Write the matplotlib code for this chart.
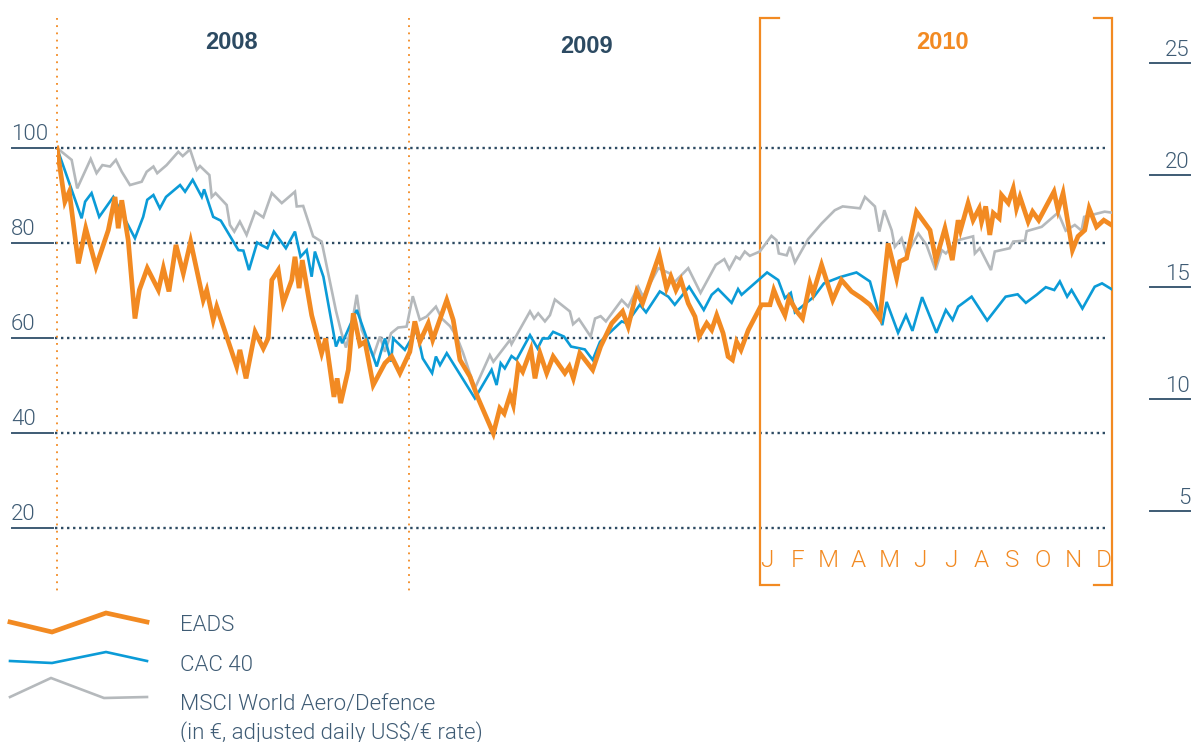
import numpy as np
import matplotlib
matplotlib.use("Agg")
import matplotlib.pyplot as plt
from matplotlib import font_manager
from matplotlib.transforms import blended_transform_factory

# --- data (x in months since Jan 2008) -------------------------------------
eads_x = [0.00, 0.27, 0.42, 0.73, 0.98, 1.33, 1.75, 1.98, 2.09, 2.21, 2.43, 2.66,
          2.81, 3.08, 3.46, 3.63, 3.82, 4.06, 4.31, 4.56, 4.99, 5.11, 5.33, 5.45,
          6.13, 6.24, 6.45, 6.76, 7.04, 7.21, 7.33, 7.55, 7.72, 8.01, 8.12, 8.26,
          8.37, 8.69, 9.03, 9.17, 9.45, 9.56, 9.68, 9.94, 10.11, 10.34, 10.51,
          10.79, 11.19, 11.42, 11.70, 12.04, 12.21, 12.38, 12.67, 12.82, 13.30,
          13.52, 13.75, 14.09, 14.37, 14.89, 15.11, 15.26, 15.46, 15.57, 15.74,
          15.89, 16.17, 16.31, 16.48, 16.71, 16.93, 17.33, 17.48, 17.62, 17.84,
          18.28, 18.55, 18.93, 19.30, 19.49, 19.78, 19.98, 20.55, 20.80, 20.95,
          21.12, 21.29, 21.54, 21.77, 21.91, 22.17, 22.34, 22.51, 22.73, 22.90,
          23.05, 23.19, 23.34, 23.59, 24.04, 24.33, 24.46, 24.64, 24.84, 24.98,
          25.24, 25.44, 25.69, 25.80, 26.09, 26.47, 26.77, 27.11, 27.45, 27.74,
          28.08, 28.36, 28.65, 28.76, 28.99, 29.33, 29.79, 29.99, 30.30, 30.55,
          30.75, 30.83, 31.09, 31.26, 31.47, 31.55, 31.69, 31.83, 31.95, 32.15,
          32.23, 32.46, 32.63, 32.74, 32.86, 33.14, 33.29, 33.50, 34.02, 34.16,
          34.33, 34.65, 34.84, 35.07, 35.22, 35.47, 35.72, 35.98]
eads_y = [100, 88.7, 90.8, 75.7, 83.1, 75.0, 82.7, 89.7, 83.1, 89.0, 80.6, 64.1,
          70.1, 74.7, 70.1, 74.7, 69.8, 79.6, 73.6, 80.3, 68.0, 70.1, 63.8, 66.6,
          54.0, 57.5, 51.5, 61.3, 57.8, 60.0, 72.2, 74.3, 67.3, 72.2, 77.1, 70.5,
          76.4, 64.8, 56.8, 59.9, 47.6, 51.5, 46.3, 53.3, 65.2, 58.5, 59.2,
          50.1, 54.7, 56.1, 52.6, 57.1, 63.5, 59.2, 63.1, 59.6, 68.0,
          63.8, 55.4, 51.9, 47.3, 39.9, 45.2, 44.1, 48.0, 45.9, 54.3,
          52.9, 57.5, 51.5, 56.8, 52.6, 56.1, 52.6, 54.0, 51.5, 56.8,
          53.3, 58.2, 63.1, 65.6, 62.4, 69.8, 67.3, 77.5, 70.5, 72.9,
          70.1, 72.2, 67.3, 64.5, 60.3, 63.1, 61.7, 64.8, 61.0, 56.1,
          55.4, 59.2, 57.5, 61.7, 67.0, 67.0, 70.1, 67.3, 64.8, 68.4,
          65.6, 64.1, 71.5, 69.4, 75.4, 68.0, 72.2, 69.8, 68.4, 67.0,
          64.1, 79.9, 72.6, 76.1, 76.8, 86.6, 82.7, 76.4, 83.1, 76.4,
          84.8, 82.7, 88.4, 84.8, 87.3, 84.5, 87.7, 81.7, 86.3, 85.2,
          90.1, 88.4, 91.5, 87.3, 89.7, 84.5, 86.6, 84.8, 90.8, 86.9,
          90.5, 78.5, 81.4, 82.7, 87.3, 83.4, 84.8, 83.8]

cac_x = [0.00, 0.84, 0.96, 1.18, 1.44, 1.92, 2.66, 2.94, 3.08, 3.29, 3.51, 3.72,
         4.20, 4.37, 4.63, 4.94, 5.02, 5.33, 5.59, 6.19, 6.36, 6.55, 6.83, 6.99,
         7.18, 7.40, 7.81, 8.12, 8.31, 8.52, 8.69, 8.80, 9.09, 9.52, 9.66, 9.73,
         10.23, 10.91, 11.19, 11.40, 11.47, 11.87, 12.27, 12.48, 12.80, 12.93,
         13.07, 13.30, 14.26, 14.83, 15.00, 15.14, 15.28, 15.51, 15.68, 16.14,
         16.40, 16.57, 16.76, 16.93, 17.30, 17.54, 18.01, 18.28, 18.53, 19.27,
         19.44, 19.89, 20.10, 20.57, 20.86, 21.08, 21.57, 22.07, 22.34, 22.56,
         23.02, 23.24, 23.36, 24.23, 24.61, 24.84, 25.04, 25.18, 25.83, 26.17,
         26.71, 27.28, 27.74, 28.16, 28.31, 28.70, 28.97, 29.19, 29.52, 30.01,
         30.33, 30.56, 30.75, 31.21, 31.74, 32.37, 32.78, 33.06, 33.43, 33.74,
         34.03, 34.22, 34.47, 34.62, 34.99, 35.41, 35.66, 35.98]
cac_y = [100, 85.2, 88.7, 90.5, 85.5, 89.7, 81.0, 85.5, 89.1, 90.1, 87.3, 89.7,
         92.2, 90.8, 93.3, 89.7, 91.3, 85.5, 84.7, 78.5, 78.4, 74.3, 80.1, 79.5,
         78.9, 82.4, 78.9, 82.4, 77.1, 78.5, 72.9, 78.2, 72.9, 58.2, 60.3, 58.9,
         65.9, 54.0, 59.9, 55.0, 59.9, 57.5, 61.7, 55.7, 52.6, 56.1,
         54.3, 56.8, 47.3, 53.3, 50.1, 54.7, 53.6, 56.2, 55.4, 60.6,
         57.8, 59.9, 59.9, 61.3, 60.3, 58.2, 57.6, 55.4, 59.2, 63.5,
         63.1, 67.0, 65.4, 69.8, 68.7, 67.0, 70.8, 65.9, 69.1, 70.3,
         67.4, 70.3, 69.1, 73.8, 72.2, 68.4, 69.5, 65.4, 68.7, 71.5,
         72.8, 73.8, 71.9, 62.7, 67.6, 61.1, 64.8, 61.5, 68.6, 61.1,
         65.9, 63.8, 66.6, 68.7, 63.7, 68.7, 69.2, 67.4, 69.1, 70.7,
         70.1, 71.9, 68.7, 70.1, 66.2, 70.8, 71.5, 70.3]

msci_x = [0.00, 0.50, 0.69, 1.15, 1.35, 1.55, 1.81, 2.01, 2.21, 2.49, 2.89, 3.06,
          3.29, 3.42, 3.74, 4.14, 4.29, 4.54, 4.77, 4.88, 5.20, 5.28, 5.41, 5.79,
          5.90, 6.05, 6.24, 6.47, 6.76, 7.04, 7.33, 7.67, 8.12, 8.18, 8.40, 8.74,
          9.03, 9.52, 9.71, 9.86, 10.05, 10.23, 10.40, 10.79, 11.02, 11.19, 11.40,
          11.64, 11.93, 12.14, 12.38, 12.61, 12.93, 13.13, 13.41, 13.64, 13.86,
          14.26, 14.77, 14.89, 15.46, 15.51, 16.14, 16.28, 16.42, 16.65, 16.82,
          16.99, 17.50, 17.61, 17.81, 18.21, 18.36, 18.55, 18.73, 19.27, 19.49,
          19.83, 20.00, 20.52, 20.91, 21.03, 21.54, 21.96, 22.48, 22.77, 22.94,
          23.17, 23.30, 23.47, 23.64, 23.98, 24.38, 24.55, 24.63, 24.90, 25.01,
          25.18, 25.63, 26.09, 26.54, 26.81, 27.40, 27.57, 27.91, 28.06, 28.23,
          28.48, 28.59, 28.82, 28.99, 29.39, 29.67, 29.98, 30.19, 30.33, 30.75,
          31.26, 31.32, 31.49, 31.87, 32.00, 32.51, 32.63, 33.03, 33.09, 33.60,
          34.16, 34.42, 34.73, 34.96, 35.05, 35.75, 35.98]
msci_y = [100, 97.5, 91.5, 97.7, 94.7, 96.4, 96.1, 97.5, 95.0, 92.2, 92.9, 95.0,
          96.1, 94.7, 96.4, 99.2, 98.3, 99.7, 95.4, 96.2, 94.3, 89.7, 90.5, 88.0,
          83.8, 82.4, 84.5, 81.7, 86.6, 85.4, 90.5, 88.4, 90.8, 87.7, 87.8, 81.4,
          80.3, 65.7, 61.0, 58.0, 62.4, 69.1, 61.7, 56.1, 60.3, 57.1, 61.0,
          62.2, 62.4, 68.8, 63.8, 64.5, 66.6, 64.1, 62.5, 60.3, 56.8,
          49.4, 56.4, 55.0, 59.6, 58.7, 65.6, 64.1, 65.2, 63.5, 64.8,
          68.1, 65.6, 62.9, 64.0, 60.3, 64.1, 64.6, 63.5, 68.0, 66.6,
          70.8, 68.7, 74.7, 73.6, 71.5, 74.7, 69.5, 75.4, 76.6, 74.5,
          77.1, 76.6, 78.2, 77.3, 78.2, 81.5, 80.6, 77.8, 77.4, 79.2,
          75.9, 80.8, 84.1, 86.9, 87.7, 87.3, 89.7, 87.7, 82.4, 86.9,
          82.7, 79.2, 81.0, 77.5, 82.0, 79.6, 74.3, 78.5, 77.8, 80.6,
          81.4, 77.8, 78.9, 74.3, 78.2, 78.9, 80.3, 80.5, 82.5, 83.4,
          86.4, 82.6, 83.8, 82.6, 85.5, 86.6, 86.4]

years = ["2008", "2009", "2010"]
months = ["J", "F", "M", "A", "M", "J", "J", "A", "S", "O", "N", "D"]
left_ticks = [20, 40, 60, 80, 100]
right_ticks = [5, 10, 15, 20, 25]
legend_labels = ["EADS", "CAC 40", "MSCI World Aero/Defence",
                 "(in \u20ac, adjusted daily US$/\u20ac rate)"]

# --- styling ----------------------------------------------------------------
ORANGE = "#f28a22"
BLUE = "#0b9bd7"
GREY = "#b5b9bc"
SLATE = "#3e5b74"
DARK = "#2c4a62"


def pick_light_font():
    fams = ["Roboto", "Open Sans", "Lato", "Inter", "Noto Sans"]
    for fam in fams:
        for f in font_manager.fontManager.ttflist:
            if f.name == fam and isinstance(f.weight, int) and f.weight <= 300 \
                    and f.style == "normal":
                return fam, 300
    return "Liberation Sans", "normal"


LIGHT, LIGHTW = pick_light_font()

W, H = 1195, 742
fig = plt.figure(figsize=(W / 100, H / 100), dpi=100)

# axes placed so that month 0..36 maps onto the plotted span
ax = fig.add_axes([57 / W, 1 - 623 / H, (1112 - 57) / W, (623 - 18) / H])
ax.set_xlim(0, 36)
ax.set_ylim(0, 605 / 4.75)
ax.axis("off")
ax2 = ax.twinx()
ax2.set_ylim(0, 605 / 22.4)
ax2.axis("off")

tl = blended_transform_factory(fig.transFigure, ax.transData)
tr = blended_transform_factory(fig.transFigure, ax2.transData)

# dotted gridlines + left labels
for v in left_ticks:
    ax.plot([55 / W, 1106 / W], [v, v], transform=tl, color=DARK, lw=1.7,
            linestyle=(0, (1, 1.55)), dash_capstyle="butt", clip_on=False)
    ax.plot([12 / W, 53 / W], [v, v], transform=tl, color=SLATE, lw=1.4,
            clip_on=False)
    ax.annotate(str(v), xy=(11 / W, v), xycoords=tl, xytext=(0, 8),
                textcoords="offset pixels", ha="left", va="baseline",
                fontsize=16, family=LIGHT, weight=LIGHTW, color=SLATE)

# right scale
for v in right_ticks:
    ax2.plot([1150 / W, 1190 / W], [v, v], transform=tr, color=SLATE, lw=1.4,
             clip_on=False)
    ax2.annotate(str(v), xy=(1190 / W, v), xycoords=tr, xytext=(0, 7),
                 textcoords="offset pixels", ha="right", va="baseline",
                 fontsize=16, family=LIGHT, weight=LIGHTW, color=SLATE)

# year separators
tv = blended_transform_factory(ax.transData, fig.transFigure)
for m in [0, 12]:
    ax.plot([m, m], [1 - 18 / H, 1 - 593 / H], transform=tv, color=ORANGE,
            lw=1.3, linestyle=(0, (1, 3)), clip_on=False)

# 2010 bracket
top, bot = 1 - 18 / H, 1 - 585 / H
ax.plot([24 + 0.65, 24, 24, 24 + 0.65], [top, top, bot, bot], transform=tv,
        color=ORANGE, lw=1.6, clip_on=False, solid_joinstyle="miter")
ax.plot([36 - 0.62, 36, 36, 36 - 0.62], [top, top, bot, bot], transform=tv,
        color=ORANGE, lw=1.6, clip_on=False, solid_joinstyle="miter")

# year labels
year_pos = [5.94, 18.08, 30.23]
for i, yr in enumerate(years):
    ax.text(year_pos[i], 1 - [49, 53, 49][i] / H, yr, transform=tv,
            ha="center", va="baseline", fontsize=17, weight="bold",
            family="Liberation Sans", color=ORANGE if i == 2 else DARK)

# month letters
for i, mo in enumerate(months):
    ax.text(24.22 + i * 1.045, 1 - 567 / H, mo, transform=tv, ha="center",
            va="baseline", fontsize=17.5, family=LIGHT, weight=LIGHTW,
            color=ORANGE)

# series
ax.plot(msci_x, msci_y, color=GREY, lw=1.9, solid_joinstyle="miter", zorder=3)
ax.plot(cac_x, cac_y, color=BLUE, lw=1.9, solid_joinstyle="miter", zorder=4)
ax.plot(eads_x, eads_y, color=ORANGE, lw=3.4, solid_joinstyle="miter", zorder=5)

# legend glyphs (figure pixels)
leg_shapes = [
    ([10, 52, 106, 147], [622, 632, 613, 622], ORANGE, 3.4),
    ([10, 52, 106, 147], [661, 663, 652, 661], BLUE, 1.9),
    ([10, 51, 104, 147], [697, 678, 698, 697], GREY, 1.9),
]
for xs, ys, c, lw in leg_shapes:
    fig.add_artist(plt.Line2D([x / W for x in xs], [1 - y / H for y in ys],
                              transform=fig.transFigure, color=c, lw=lw,
                              solid_joinstyle="miter"))

for lab, yb in zip(legend_labels, [631, 671, 710, 739]):
    fig.text(180 / W, 1 - yb / H, lab, ha="left", va="baseline", fontsize=16,
             family=LIGHT, weight=LIGHTW, color=SLATE)

fig.savefig("out.png", dpi=100)
